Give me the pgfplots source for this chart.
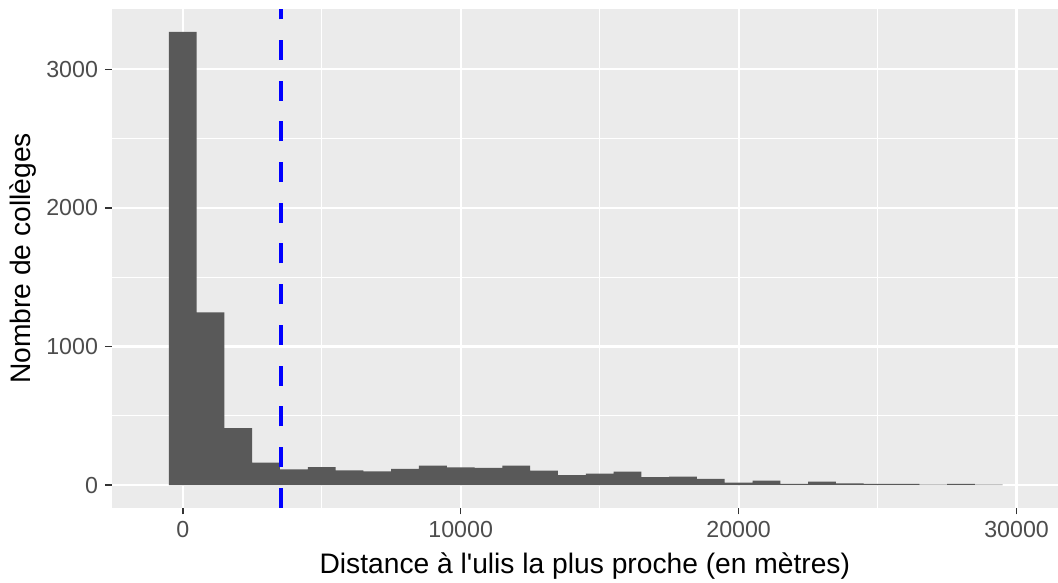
\documentclass[border=0pt]{standalone}
\usepackage{fontspec}
\setmainfont{Liberation Sans}[Ligatures=TeXOff]
\usepackage{pgfplots}
\pgfplotsset{compat=1.18}
\definecolor{panelbg}{HTML}{EBEBEB}
\definecolor{barfill}{HTML}{595959}
\definecolor{ticktext}{HTML}{4D4D4D}
\definecolor{tickmark}{HTML}{333333}
\begin{document}
\begin{tikzpicture}
\begin{axis}[
  name=ax,
  scale only axis,
  width=473.15pt, height=249.2pt,
  xmin=-2555, xmax=31490,
  ymin=-163.5, ymax=3433.5,
  axis background/.style={fill=panelbg},
  axis line style={draw=none},
  xtick={0,10000,20000,30000},
  ytick={0,1000,2000,3000},
  minor xtick={5000,15000,25000},
  minor ytick={500,1500,2500},
  grid=both,
  major grid style={white, line width=1.1pt},
  minor grid style={white, line width=0.55pt},
  tick align=outside,
  major tick length=3.35pt,
  minor tick length=0pt,
  tick style={tickmark, line width=0.8pt},
  xtick pos=left, ytick pos=left,
  scaled ticks=false,
  /pgf/number format/1000 sep={},
  /pgf/number format/assume math mode=true,
  tick label style={font=\fontsize{11.6}{13}\selectfont, text=ticktext},
  label style={font=\fontsize{14.1}{16}\selectfont, text=black},
  xlabel={Distance à l'ulis la plus proche (en mètres)},
  ylabel={Nombre de collèges},
  xlabel style={at={(axis description cs:0.5,0)}, anchor=center, yshift=-29pt},
  ylabel style={at={([xshift=-44.35pt]axis description cs:0,0.5)}, anchor=center},
  clip=true,
]
\addplot[ybar interval, fill=barfill, draw=none] coordinates {
(-500,3270) (500,1246) (1500,410) (2500,161) (3500,113) (4500,130)
(5500,106) (6500,99) (7500,116) (8500,140) (9500,128) (10500,123)
(11500,140) (12500,104) (13500,72) (14500,82) (15500,97) (16500,58)
(17500,60) (18500,45) (19500,18) (20500,32) (21500,8) (22500,24)
(23500,12) (24500,8) (25500,8) (26500,3) (27500,8) (28500,3) (29500,3)
};
\addplot[draw=blue, line width=2.2pt, dash pattern=on 10pt off 10.35pt] coordinates {(3540,-163.5) (3540,3433.5)};
\end{axis}
\pgfresetboundingbox
\path[use as bounding box] ([xshift=-55.85pt,yshift=-37.65pt]ax.south west) rectangle ([yshift=4.65pt]ax.north east);
\end{tikzpicture}
\end{document}
